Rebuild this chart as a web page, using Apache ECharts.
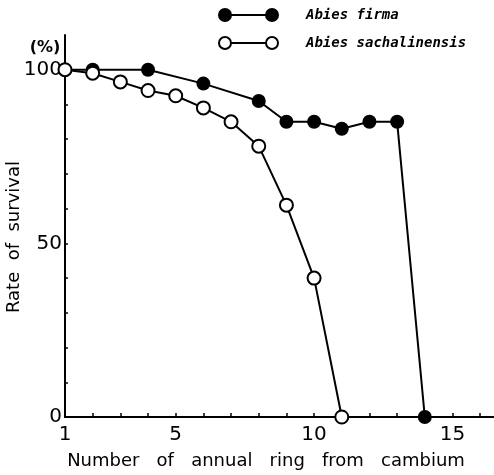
<!DOCTYPE html>
<html><head><meta charset="utf-8">
<script src="https://cdn.jsdelivr.net/npm/echarts@6/dist/echarts.min.js"></script>
<style>html,body{margin:0;padding:0;background:#fff}#c{width:494px;height:475px}</style>
</head><body><div id="c"></div>
<script>
const rings = [1,2,3,4,5,6,7,8,9,10,11,12,13,14];
const firmaX = [1,2,4,6,8,9,10,11,12,13,14];
const firmaY = [100,100,100,96,91,85,85,83,85,85,0];
const sachX = [1,2,3,4,5,6,7,8,9,10,11];
const sachY = [100,99,96.5,94,92.5,89,85,78,61,40,0];
const xTickLabels = [1,5,10,15];
const yTickLabels = [0,50,100];
const seriesNames = ['Abies firma','Abies sachalinensis'];
const xTitle = 'Number   of   annual   ring   from   cambium';
const yTitle = 'Rate  of  survival';
const yUnit = '(%)';

const chart = echarts.init(document.getElementById('c'), null, {renderer:'canvas'});
const lab = {fontFamily:'DejaVu Sans', fontSize:20, color:'#000'};
chart.setOption({
  animation:false,
  backgroundColor:'#fff',
  grid:{left:65, right:0, top:35, bottom:58, containLabel:false, outerBoundsMode:'none'},
  xAxis:{type:'value', min:1, max:16.5, interval:1,
    axisLine:{lineStyle:{color:'#000', width:2}},
    axisTick:{inside:true, length:4, lineStyle:{color:'#000', width:1.5}},
    splitLine:{show:false},
    axisLabel:Object.assign({margin:8, showMaxLabel:false,
      formatter:v => xTickLabels.includes(v) ? String(v) : ''}, lab)
  },
  yAxis:{type:'value', min:0, max:110, interval:10,
    axisLine:{show:true, lineStyle:{color:'#000', width:2}},
    axisTick:{show:true, inside:true, length:3, lineStyle:{color:'#000', width:1.5}},
    splitLine:{show:false},
    axisLabel:Object.assign({margin:3, showMaxLabel:false,
      formatter:v => yTickLabels.includes(v) ? String(v) : ''}, lab)
  },
  series:[
    {name:seriesNames[0], type:'line', data:firmaX.map((x,i)=>[x,firmaY[i]]),
      symbol:'circle', symbolSize:14, z:2,
      lineStyle:{color:'#000', width:2}, itemStyle:{color:'#000'}},
    {name:seriesNames[1], type:'line', data:sachX.map((x,i)=>[x,sachY[i]]),
      symbol:'circle', symbolSize:13, z:3,
      lineStyle:{color:'#000', width:2}, itemStyle:{color:'#fff', borderColor:'#000', borderWidth:2}}
  ],
  graphic:[
    {type:'line', shape:{x1:225,y1:15,x2:272,y2:15}, style:{stroke:'#000', lineWidth:2}},
    {type:'circle', shape:{cx:225,cy:15,r:7}, style:{fill:'#000'}},
    {type:'circle', shape:{cx:272,cy:15,r:7}, style:{fill:'#000'}},
    {type:'line', shape:{x1:225,y1:43,x2:272,y2:43}, style:{stroke:'#000', lineWidth:2}},
    {type:'circle', shape:{cx:225,cy:43,r:6}, style:{fill:'#fff', stroke:'#000', lineWidth:2}},
    {type:'circle', shape:{cx:272,cy:43,r:6}, style:{fill:'#fff', stroke:'#000', lineWidth:2}},
    {type:'text', x:306, y:15, style:{text:seriesNames[0], font:'italic bold 14px "DejaVu Sans Mono"', fill:'#000', textVerticalAlign:'middle'}},
    {type:'text', x:306, y:43, style:{text:seriesNames[1], font:'italic bold 14px "DejaVu Sans Mono"', fill:'#000', textVerticalAlign:'middle'}},
    {type:'text', x:45, y:48, style:{text:yUnit, font:'bold 16px "DejaVu Sans"', fill:'#000', textAlign:'center', textVerticalAlign:'middle'}},
    {type:'text', x:14, y:237, rotation:Math.PI/2, style:{text:yTitle, font:'18px "DejaVu Sans"', fill:'#000', textAlign:'center', textVerticalAlign:'middle'}},
    {type:'text', x:266, y:461, style:{text:xTitle, font:'18px "DejaVu Sans"', fill:'#000', textAlign:'center', textVerticalAlign:'middle'}}
  ]
});
</script></body></html>
